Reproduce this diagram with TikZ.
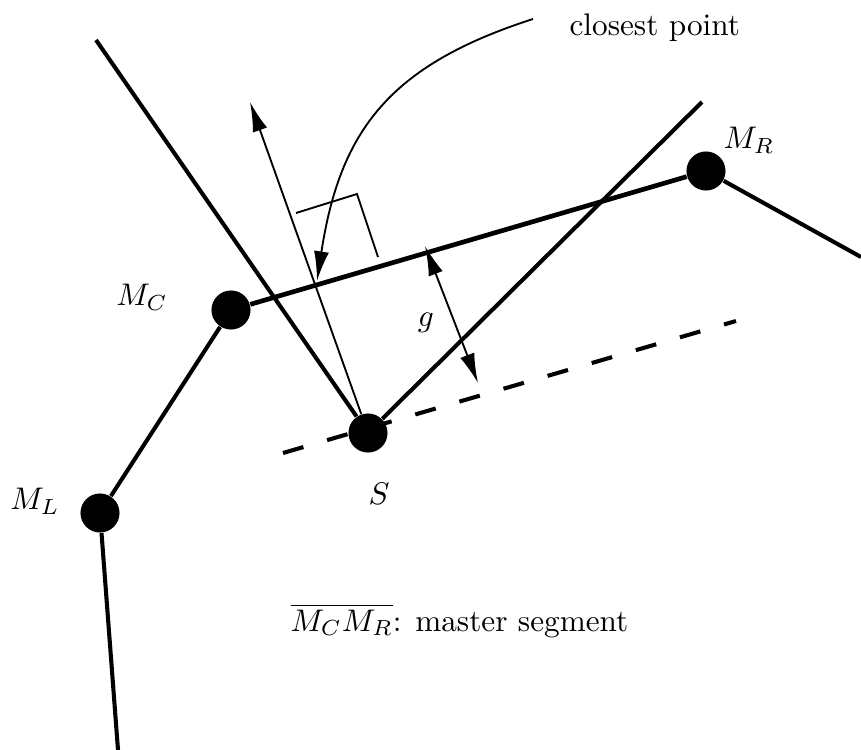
\documentclass[tikz,border=0pt]{standalone}
\usetikzlibrary{arrows.meta}
\begin{document}
\begin{tikzpicture}[x=0.32pt,y=-0.32pt,
  dot/.style={circle,fill=black,inner sep=0pt,minimum size=12.5pt},
  heavyline/.style={line width=1.3pt},
  masterline/.style={line width=1.5pt},
  fineline/.style={line width=0.6pt},
  tip/.style={-{Latex[length=9.5pt,width=4.8pt]}},
  twotips/.style={{Latex[length=9.5pt,width=4.8pt]}-{Latex[length=9.5pt,width=4.8pt]}},
  lbl/.style={inner sep=0pt}
]
\useasboundingbox (0,0) rectangle (861,750);

% free end points
\coordinate (dA) at (283,453);
\coordinate (dB) at (736,321);
\coordinate (Rend) at (861,257);
\coordinate (Lend) at (118,750);
\coordinate (Ltop) at (96,40);
\coordinate (Rtop) at (702,102);
\coordinate (Atop) at (250,102);
\coordinate (Cstart) at (533,19);
\coordinate (Ctip) at (317,281);
\coordinate (rA) at (296,213);
\coordinate (rB) at (357,194);
\coordinate (rC) at (378,257);
\coordinate (gA) at (425,246);
\coordinate (gB) at (478,383);

% dashed line through S
\draw[heavyline, dash pattern=on 6.8pt off 7.9pt] (dA) -- (dB);

% nodes
\node[dot] (MC) at (231,310) {};
\node[dot] (MR) at (706,171) {};
\node[dot] (ML) at (100,513) {};
\node[dot] (S)  at (368,433) {};

% master polyline
\draw[heavyline] (Lend) -- (ML) -- (MC);
\draw[masterline] (MC) -- (MR);
\draw[heavyline] (MR) -- (Rend);

% lines through S
\draw[heavyline] (S) -- (Ltop);
\draw[heavyline] (S) -- (Rtop);
\draw[fineline, tip] (S) -- (Atop);

% closest point pointer
\draw[fineline, tip] (Cstart) .. controls (390,65) and (340,130) .. (Ctip);

% right angle mark
\draw[fineline] (rA) -- (rB) -- (rC);

% gap arrow
\draw[fineline, twotips] (gA) -- (gB);

% labels
\node[lbl, anchor=base west] (tCP) at (569,35) {closest point};
\node[lbl] (tMC) at (142,297) {$M_C$};
\node[lbl] (tMR) at (749,140) {$M_R$};
\node[lbl] (tML) at (35,501) {$M_L$};
\node[lbl] (tS)  at (379,494) {$S$};
\node[lbl] (tg)  at (426,323) {$g$};
\node[lbl, anchor=base west] (tMS) at (290,631) {$\overline{M_CM_R}$: master segment};
\end{tikzpicture}
\end{document}
